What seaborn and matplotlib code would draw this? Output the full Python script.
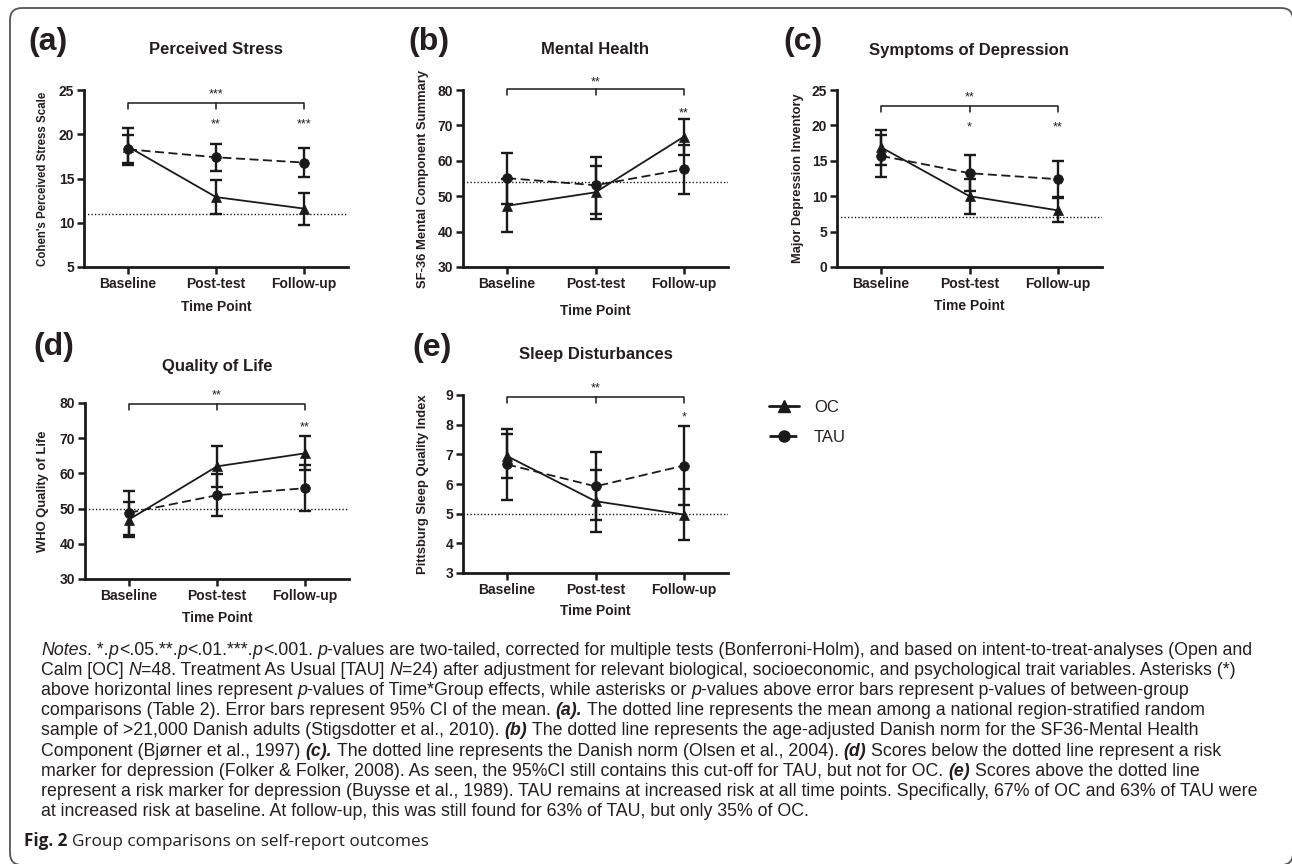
import numpy as np
import pandas as pd
import matplotlib
matplotlib.use("Agg")
import matplotlib.pyplot as plt
import seaborn as sns
from matplotlib.lines import Line2D
from matplotlib.patches import FancyBboxPatch
from matplotlib.transforms import IdentityTransform

time_points = ["Baseline", "Post-test", "Follow-up"]
groups = ["OC", "TAU"]

# (a) Perceived Stress
stress_oc = [18.6, 12.9, 11.6]
stress_oc_ci = [2.1, 1.9, 1.8]
stress_tau = [18.3, 17.4, 16.8]
stress_tau_ci = [1.6, 1.5, 1.6]
stress_norm = 11

# (b) Mental Health
mental_oc = [47.3, 51.1, 66.8]
mental_oc_ci = [7.5, 7.4, 5.1]
mental_tau = [55.1, 53.1, 57.6]
mental_tau_ci = [7.2, 8.1, 7.0]
mental_norm = 54

# (c) Symptoms of Depression
depr_oc = [16.9, 10.0, 8.0]
depr_oc_ci = [2.5, 2.45, 1.7]
depr_tau = [15.7, 13.25, 12.4]
depr_tau_ci = [2.95, 2.55, 2.55]
depr_norm = 7

# (d) Quality of Life
qol_oc = [46.9, 62.0, 65.7]
qol_oc_ci = [5.0, 5.9, 4.8]
qol_tau = [48.8, 53.8, 55.8]
qol_tau_ci = [6.3, 6.0, 6.45]
qol_norm = 50

# (e) Sleep Disturbances
sleep_oc = [6.94, 5.42, 4.97]
sleep_oc_ci = [0.73, 1.05, 0.85]
sleep_tau = [6.66, 5.92, 6.62]
sleep_tau_ci = [1.19, 1.15, 1.33]
sleep_norm = 5

# significance: Time*Group bracket and between-group stars
bracket_stars = ["***", "**", "**", "**", "**"]
group_stars = [["", "**", "***"], ["", "", "**"], ["", "*", "**"],
               ["", "", "**"], ["", "", "*"]]

W, H = 1292, 864
INK = "#1a1a1a"
TEXT = "#231f20"

panels = [
    dict(tag="(a)", title="Perceived Stress", ylabel="Cohen's Perceived Stress Scale",
         oc=stress_oc, oc_ci=stress_oc_ci, tau=stress_tau, tau_ci=stress_tau_ci,
         norm=stress_norm, ylim=(5, 25), step=5, br_y=23.5, br_star_y=25.0, star_y=21.6,
         rect=(84, 90, 348, 267), tag_xy=(28, 42), title_xy=(216, 50),
         ylab_x=43, ylab_size=8.3, xlab_y=307),
    dict(tag="(b)", title="Mental Health", ylabel="SF-36 Mental Component Summary",
         oc=mental_oc, oc_ci=mental_oc_ci, tau=mental_tau, tau_ci=mental_tau_ci,
         norm=mental_norm, ylim=(30, 80), step=10, br_y=80.3, br_star_y=83.3, star_y=74.5,
         rect=(463, 90, 728, 267), tag_xy=(408, 42), title_xy=(595, 50),
         ylab_x=423, ylab_size=9.4, xlab_y=311),
    dict(tag="(c)", title="Symptoms of Depression", ylabel="Major Depression Inventory",
         oc=depr_oc, oc_ci=depr_oc_ci, tau=depr_tau, tau_ci=depr_tau_ci,
         norm=depr_norm, ylim=(0, 25), step=5, br_y=22.75, br_star_y=24.5, star_y=20.2,
         rect=(837, 90, 1102, 267), tag_xy=(783, 42), title_xy=(969, 50),
         ylab_x=798, ylab_size=9.3, xlab_y=306),
    dict(tag="(d)", title="Quality of Life", ylabel="WHO Quality of Life",
         oc=qol_oc, oc_ci=qol_oc_ci, tau=qol_tau, tau_ci=qol_tau_ci,
         norm=qol_norm, ylim=(30, 80), step=10, br_y=79.8, br_star_y=83.3, star_y=74.3,
         rect=(85, 403, 349, 579), tag_xy=(33, 347), title_xy=(217, 366),
         ylab_x=43, ylab_size=9.4, xlab_y=618),
    dict(tag="(e)", title="Sleep Disturbances", ylabel="Pittsburg Sleep Quality Index",
         oc=sleep_oc, oc_ci=sleep_oc_ci, tau=sleep_tau, tau_ci=sleep_tau_ci,
         norm=sleep_norm, ylim=(3, 9), step=1, br_y=8.93, br_star_y=9.34, star_y=8.36,
         rect=(463, 395, 728, 573), tag_xy=(412, 348), title_xy=(596, 355),
         ylab_x=423, ylab_size=9.4, xlab_y=611),
]

notes_lines = [
    [("Notes", "i"), (". *.", "n"), ("p", "i"), ("<.05.**.", "n"), ("p", "i"), ("<.01.***.", "n"),
     ("p", "i"), ("<.001. ", "n"), ("p", "i"),
     ("-values are two-tailed, corrected for multiple tests (Bonferroni-Holm), and based on intent-to-treat-analyses (Open and", "n")],
    [("Calm [OC] ", "n"), ("N", "i"), ("=48. Treatment As Usual [TAU] ", "n"), ("N", "i"),
     ("=24) after adjustment for relevant biological, socioeconomic, and psychological trait variables. Asterisks (*)", "n")],
    [("above horizontal lines represent ", "n"), ("p", "i"),
     ("-values of Time*Group effects, while asterisks or ", "n"), ("p", "i"),
     ("-values above error bars represent p-values of between-group", "n")],
    [("comparisons (Table 2). Error bars represent 95% CI of the mean. ", "n"), ("(a).", "bi"),
     (" The dotted line represents the mean among a national region-stratified random", "n")],
    [("sample of >21,000 Danish adults (Stigsdotter et al., 2010). ", "n"), ("(b)", "bi"),
     (" The dotted line represents the age-adjusted Danish norm for the SF36-Mental Health", "n")],
    [("Component (Bjørner et al., 1997) ", "n"), ("(c).", "bi"),
     (" The dotted line represents the Danish norm (Olsen et al., 2004). ", "n"), ("(d)", "bi"),
     (" Scores below the dotted line represent a risk", "n")],
    [("marker for depression (Folker & Folker, 2008). As seen, the 95%CI still contains this cut-off for TAU, but not for OC. ", "n"),
     ("(e)", "bi"), (" Scores above the dotted line", "n")],
    [("represent a risk marker for depression (Buysse et al., 1989). TAU remains at increased risk at all time points. Specifically, 67% of OC and 63% of TAU were", "n")],
    [("at increased risk at baseline. At follow-up, this was still found for 63% of TAU, but only 35% of OC.", "n")],
]


def fx(px):
    return px / W


def fy(py):
    return 1 - py / H


sns.set_theme(style="ticks")
plt.rcParams["font.family"] = ["Liberation Sans", "DejaVu Sans"]
plt.rcParams["axes.edgecolor"] = INK
plt.rcParams["axes.linewidth"] = 2.0

fig = plt.figure(figsize=(W / 100, H / 100), dpi=100)
fig.patch.set_facecolor("white")

for i, p in enumerate(panels):
    l, t, r, b = p["rect"]
    ax = fig.add_axes([fx(l), fy(b), (r - l) / W, (b - t) / H])
    ax.set_facecolor("white")
    df = pd.DataFrame({
        "Time Point": time_points * 2,
        "Score": list(p["oc"]) + list(p["tau"]),
        "Group": ["OC"] * 3 + ["TAU"] * 3,
    })
    sns.lineplot(data=df, x="Time Point", y="Score", hue="Group", style="Group",
                 markers={"OC": "^", "TAU": "o"}, dashes={"OC": "", "TAU": (5, 2.5)},
                 palette={"OC": INK, "TAU": INK}, linewidth=1.3, markersize=7,
                 markeredgecolor=INK, markeredgewidth=0.5, errorbar=None,
                 legend=False, sort=False, ax=ax)
    for mean, ci in ((p["oc"], p["oc_ci"]), (p["tau"], p["tau_ci"])):
        ax.errorbar(range(len(time_points)), mean, yerr=ci, fmt="none", ecolor=INK,
                    elinewidth=1.7, capsize=4.5, capthick=1.7)
    ax.axhline(p["norm"], color=INK, lw=1.0, ls=(0, (1, 1.5)))

    ymin, ymax = p["ylim"]
    ax.set_ylim(ymin, ymax)
    ax.set_xlim(-0.5, 2.5)
    ax.set_yticks(np.arange(ymin, ymax + 0.001, p["step"]))
    ax.set_xticks(range(len(time_points)))
    ax.set_xticklabels(time_points)
    ax.tick_params(axis="both", width=1.8, length=5, color=INK, labelsize=10,
                   labelcolor=TEXT, pad=2)
    for lab in ax.get_xticklabels() + ax.get_yticklabels():
        lab.set_fontweight("bold")
    sns.despine(ax=ax)
    ax.grid(False)

    ax.set_ylabel(p["ylabel"], fontsize=p["ylab_size"], fontweight="bold", color=TEXT)
    ax.yaxis.set_label_coords((p["ylab_x"] - l) / (r - l), 0.5)
    ax.yaxis.label.set_va("center")
    ax.set_xlabel("Time Point", fontsize=10, fontweight="bold", color=TEXT)
    ax.xaxis.set_label_coords(0.5, (b - p["xlab_y"]) / (b - t))
    ax.xaxis.label.set_va("center")

    # Time*Group bracket
    y0 = p["br_y"]
    drop = 0.035 * (ymax - ymin)
    ax.plot([0, 0, 2, 2], [y0 - drop, y0, y0, y0 - drop], color=INK, lw=1.1, clip_on=False)
    ax.plot([1, 1], [y0, y0 - drop], color=INK, lw=1.1, clip_on=False)
    ax.annotate(bracket_stars[i], (1, p["br_star_y"]), xytext=(0, -5),
                textcoords="offset points", ha="center", va="baseline",
                fontsize=9, color=TEXT, annotation_clip=False)
    for j, s in enumerate(group_stars[i]):
        if s:
            ax.annotate(s, (j, p["star_y"]), xytext=(0, -5), textcoords="offset points",
                        ha="center", va="baseline", fontsize=9, color=TEXT,
                        annotation_clip=False)

    fig.text(fx(p["title_xy"][0]), fy(p["title_xy"][1]), p["title"], ha="center",
             va="center", fontsize=12, fontweight="bold", color=TEXT)
    fig.text(fx(p["tag_xy"][0]), fy(p["tag_xy"][1]), p["tag"], ha="left",
             va="center", fontsize=23, fontweight="bold", color=TEXT)

handles = [
    Line2D([], [], color=INK, lw=2, ls="-", marker="^", markersize=8),
    Line2D([], [], color=INK, lw=2, ls=(0, (4, 2)), marker="o", markersize=8),
]
fig.legend(handles, groups, loc="center left", bbox_to_anchor=(fx(769), fy(422)),
           frameon=False, fontsize=12, handlelength=1.8, handletextpad=0.9,
           labelspacing=0.9, borderpad=0, borderaxespad=0, labelcolor=TEXT)

# notes paragraph with mixed styles
renderer = fig.canvas.get_renderer()


def text_width(s, **props):
    t = fig.text(0, 0, s, **props)
    w = t.get_window_extent(renderer).width
    t.remove()
    return w


def style_props(st, size, family):
    return dict(fontsize=size, color=TEXT, family=family,
                fontstyle="italic" if "i" in st else "normal",
                fontweight="bold" if "b" in st else "normal")


def line_width(segments, size, family):
    total = 0
    for txt, st in segments:
        props = style_props(st, size, family)
        sw = text_width("x x", **props) - text_width("xx", **props)
        core = txt.strip(" ")
        n_sp = len(txt) - len(core)
        total += text_width(core, **props) + n_sp * sw
    return total


def draw_rich(x_px, y_px, segments, size, family):
    x = x_px
    for txt, st in segments:
        props = style_props(st, size, family)
        sw = text_width("x x", **props) - text_width("xx", **props)
        lead = len(txt) - len(txt.lstrip(" "))
        trail = len(txt) - len(txt.rstrip(" "))
        core = txt.strip(" ")
        x += lead * sw
        t = fig.text(fx(x), fy(y_px), core, ha="left", va="baseline", **props)
        x += t.get_window_extent(renderer).width + trail * sw


note_family = ["Liberation Sans", "DejaVu Sans"]
base = 10
note_size = base * 1220 / line_width(notes_lines[7], base, note_family)
for k, segs in enumerate(notes_lines):
    draw_rich(41, 655 + k * 20.1, segs, note_size, note_family)

cap_family = ["Open Sans", "DejaVu Sans"]
draw_rich(24, 846, [("Fig. 2", "b"), (" Group comparisons on self-report outcomes", "n")],
          12.3, cap_family)

box = FancyBboxPatch((10, -1), 1283, 857, boxstyle="round,pad=0,rounding_size=12",
                     transform=IdentityTransform(), fill=False, edgecolor="#555555", lw=1.3)
fig.add_artist(box)

fig.savefig("out.png", dpi=100, facecolor="white")
